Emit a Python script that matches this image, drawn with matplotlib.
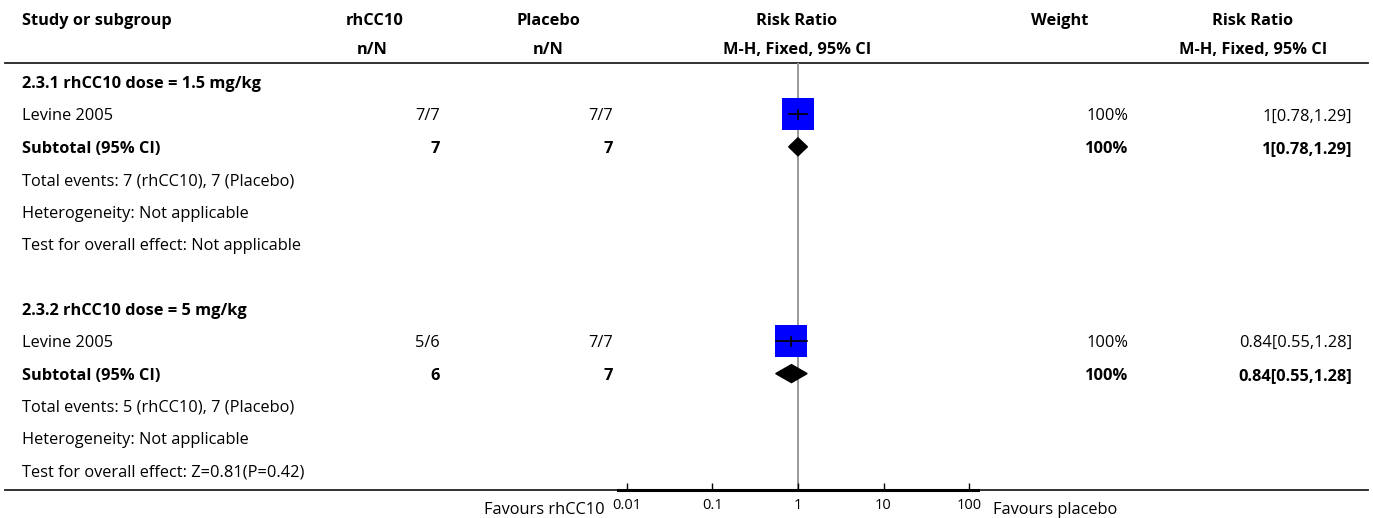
import matplotlib.pyplot as plt
from matplotlib.patches import Polygon

plt.rcParams['font.family'] = ['Open Sans', 'DejaVu Sans']

# subgroup data
groups = ["2.3.1 rhCC10 dose = 1.5 mg/kg", "2.3.2 rhCC10 dose = 5 mg/kg"]
studies = ["Levine 2005", "Levine 2005"]
trt_events = [7, 5]
trt_total = [7, 6]
ctl_events = [7, 7]
ctl_total = [7, 7]
rr = [1.0, 0.84]
rr_lo = [0.78, 0.55]
rr_hi = [1.29, 1.28]
weights = [100, 100]
sub_rr = [1.0, 0.84]
sub_lo = [0.78, 0.55]
sub_hi = [1.29, 1.28]
heterogeneity = ["Not applicable", "Not applicable"]
overall = ["Not applicable", "Z=0.81(P=0.42)"]
ticks = [0.01, 0.1, 1, 10, 100]
tick_labels = ["0.01", "0.1", "1", "10", "100"]

W, H = 1373, 518
fig = plt.figure(figsize=(W / 100, H / 100), dpi=100)

# text layer in pixel coordinates
tx = fig.add_axes([0, 0, 1, 1])
tx.set_xlim(0, W)
tx.set_ylim(H, 0)
tx.axis('off')

row0, step = 82, 32.4
top_line, bottom_line = 63, 490
fs = 11.8
dy = 2  # nudge text down onto the row centre


def row_y(i):
    return row0 + step * i


def put(x, i, s, ha='left', bold=False, size=fs):
    tx.text(x, row_y(i) + dy, s, ha=ha, va='center', fontsize=size,
            fontweight='bold' if bold else 'normal', color='black')


# header
hdr = [(22, "Study or subgroup", 'left'), (375, "rhCC10", 'center'),
       (548, "Placebo", 'center'), (797, "Risk Ratio", 'center'),
       (1060, "Weight", 'center'), (1253, "Risk Ratio", 'center')]
for x, s, ha in hdr:
    tx.text(x, 19 + dy, s, ha=ha, va='center', fontsize=fs, fontweight='bold')
for x, s in [(372, "n/N"), (548, "n/N"), (797, "M-H, Fixed, 95% CI"),
             (1253, "M-H, Fixed, 95% CI")]:
    tx.text(x, 48 + dy, s, ha='center', va='center', fontsize=fs,
            fontweight='bold')

tx.plot([5, 1368], [top_line, top_line], color='#222222', lw=1.3)
tx.plot([5, 1368], [bottom_line, bottom_line], color='#222222', lw=1.3)

c_trt, c_ctl, c_w, c_rr = 440, 613, 1128, 1352

for g in range(len(groups)):
    b = 7 * g
    put(22, b, groups[g], bold=True)
    put(22, b + 1, studies[g])
    put(c_trt, b + 1, f"{trt_events[g]}/{trt_total[g]}", ha='right')
    put(c_ctl, b + 1, f"{ctl_events[g]}/{ctl_total[g]}", ha='right')
    put(c_w, b + 1, f"{weights[g]}%", ha='right')
    put(c_rr, b + 1, f"{rr[g]:g}[{rr_lo[g]:g},{rr_hi[g]:g}]", ha='right')
    put(22, b + 2, "Subtotal (95% CI)", bold=True)
    put(c_trt, b + 2, f"{trt_total[g]}", ha='right', bold=True)
    put(c_ctl, b + 2, f"{ctl_total[g]}", ha='right', bold=True)
    put(c_w, b + 2, f"{weights[g]}%", ha='right', bold=True)
    put(c_rr, b + 2, f"{sub_rr[g]:g}[{sub_lo[g]:g},{sub_hi[g]:g}]",
        ha='right', bold=True)
    put(22, b + 3, f"Total events: {trt_events[g]} (rhCC10), "
                   f"{ctl_events[g]} (Placebo)")
    put(22, b + 4, f"Heterogeneity: {heterogeneity[g]}")
    put(22, b + 5, f"Test for overall effect: {overall[g]}")

# forest plot panel on a log scale
x0, x1 = 618, 978
ax = fig.add_axes([x0 / W, 1 - bottom_line / H, (x1 - x0) / W,
                   (bottom_line - top_line) / H])
ax.set_xscale('log')
ax.set_xlim(0.0079, 127)
ax.set_ylim((bottom_line - row0) / step, (top_line - row0) / step)
ax.patch.set_alpha(0)
for s in ['top', 'left', 'right']:
    ax.spines[s].set_visible(False)
ax.spines['bottom'].set_linewidth(2.2)
ax.set_yticks([])
ax.set_xticks(ticks)
ax.set_xticklabels(tick_labels)
ax.minorticks_off()
ax.tick_params(axis='x', direction='in', length=5, width=1, labelsize=10.5,
               pad=6)

ax.axvline(1, color='#999999', lw=1.4, zorder=1)

dh = 9 / step
for g in range(len(groups)):
    b = 7 * g
    ax.plot(rr[g], b + 1, marker='s', markersize=22.5, color='#0000ff',
            markeredgewidth=0, zorder=2)
    ax.plot([rr_lo[g], rr_hi[g]], [b + 1, b + 1], color='black', lw=1.2,
            zorder=3)
    ax.plot([rr[g], rr[g]], [b + 1 - 0.14, b + 1 + 0.14], color='black',
            lw=1.2, zorder=3)
    dia = Polygon([(sub_lo[g], b + 2), (sub_rr[g], b + 2 - dh),
                   (sub_hi[g], b + 2), (sub_rr[g], b + 2 + dh)],
                  closed=True, color='black', zorder=3)
    ax.add_patch(dia)

tx.text(605, 508 + dy, "Favours rhCC10", ha='right', va='center', fontsize=fs)
tx.text(993, 508 + dy, "Favours placebo", ha='left', va='center', fontsize=fs)

fig.savefig("out.png", dpi=100)
